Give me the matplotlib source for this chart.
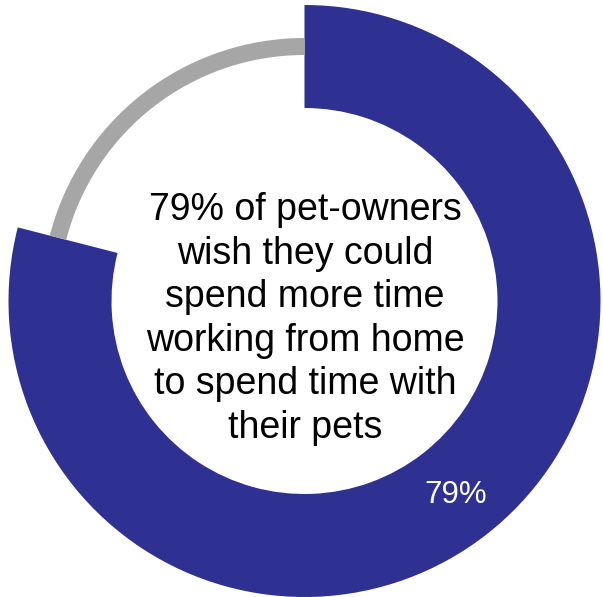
#!/usr/bin/env python3
# -*- coding: utf-8 -*-
import matplotlib
matplotlib.use('Agg')
import matplotlib.pyplot as plt

# data
labels = ['Wish to work from home more', 'Other']
shares = [79, 21]
colors = ['#2E3192', '#A6A6A6']
centerText = "79% of pet-owners\nwish they could\nspend more time\nworking from home\nto spend time with\ntheir pets"

plt.rcParams['font.family'] = ['Liberation Sans', 'DejaVu Sans']

fig = plt.figure(figsize=(6.03, 5.97), dpi=100)
ax = fig.add_axes([0, 0, 1, 1])

wedges, texts, autotexts = ax.pie(
    shares, colors=colors, radius=296, startangle=90, counterclock=False,
    wedgeprops=dict(width=103, linewidth=0),
    autopct=lambda p: '%.0f%%' % p if p > 50 else '', pctdistance=246 / 296,
    textprops=dict(color='white', fontsize=22.5), frame=True)
# one data unit = one pixel, ring centre at origin
ax.set_xlim(-304.5, 298.5)
ax.set_ylim(-296, 301)
ax.axis('off')

# the remainder is drawn as a thin grey ring
wedges[1].set_radius(263)
wedges[1].set_width(17)

ax.text(0.5, -18, centerText, ha='center', va='center', fontsize=27,
        linespacing=1.27, color='black')

plt.savefig('out.png', dpi=100)
